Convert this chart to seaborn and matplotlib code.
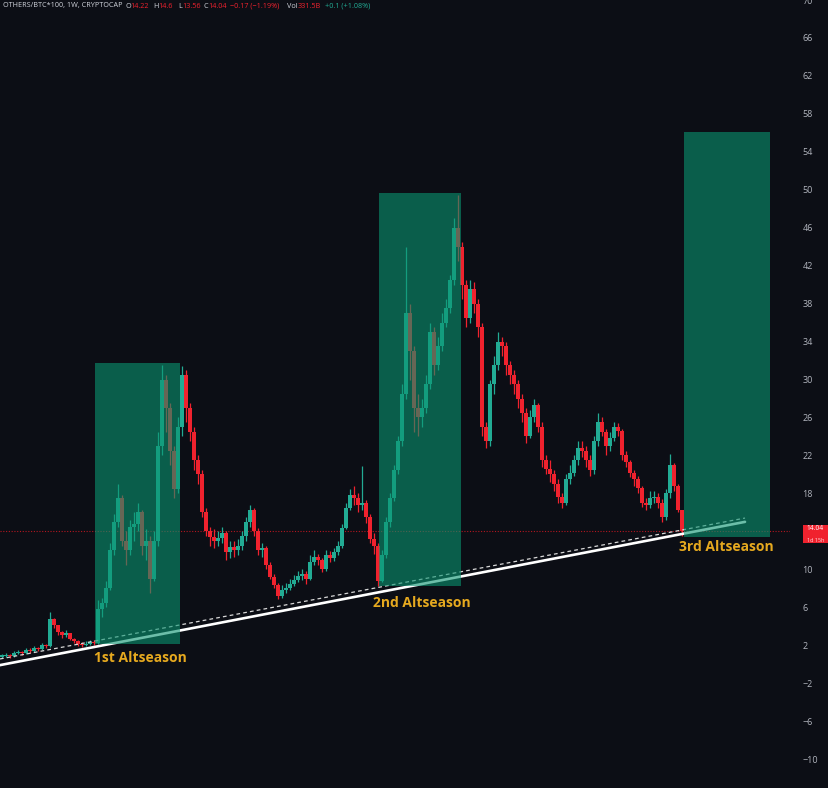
import numpy as np
import pandas as pd
import seaborn as sns
import matplotlib.pyplot as plt
import matplotlib.transforms as mtransforms
from matplotlib.patches import Rectangle

# Set styles
sns.set_theme(style="dark")
plt.rcParams['font.family'] = ['Open Sans', 'DejaVu Sans']

BG = '#0c0e15'
UP = '#22ab94'
DOWN = '#f0222e'
BOX = '#0a9470'
LABEL = '#e6a91f'
AXIS_TXT = '#b2b5be'

# weekly-ish candles of OTHERS/BTC*100
closes = [
    0.9, 1.0, 0.9, 1.2, 1.3, 1.2, 1.5, 1.4, 1.7, 1.6,
    2.0, 1.9, 4.8, 4.1, 3.4, 3.1, 3.3, 2.7, 2.4, 2.1,
    2.0, 2.1, 2.3, 2.2, 5.8, 6.4, 8.0, 12.0, 15.0, 17.5,
    13.0, 12.0, 14.5, 14.8, 16.0, 12.5, 13.0, 9.0, 13.0, 23.0,
    30.0, 27.0, 22.5, 18.5, 25.0, 30.5, 27.0, 24.5, 21.5, 20.0,
    16.0, 14.0, 13.4, 13.0, 13.3, 13.8, 11.8, 12.3, 12.0, 12.5,
    13.5, 15.0, 16.3, 14.0, 12.0, 12.2, 10.5, 9.2, 8.3, 7.2,
    7.8, 8.0, 8.5, 8.9, 9.3, 9.5, 9.0, 10.8, 11.3, 11.0,
    10.0, 11.5, 11.2, 11.8, 12.5, 14.4, 16.5, 17.8, 17.5, 16.8,
    17.0, 15.5, 13.2, 12.5, 8.8, 11.5, 15.0, 17.5, 20.5, 23.5,
    28.5, 37.0, 33.0, 27.0, 26.0, 27.0, 29.5, 35.0, 31.5, 33.5,
    36.0, 37.5, 40.5, 46.0, 44.0, 40.0, 36.5, 39.5, 38.0, 35.5,
    25.0, 23.5, 29.5, 31.5, 34.0, 33.5, 31.5, 30.5, 29.5, 28.0,
    26.5, 24.0, 26.0, 27.3, 25.0, 21.5, 20.6, 20.0, 19.0, 17.6,
    17.0, 19.5, 20.2, 21.5, 22.8, 22.5, 21.5, 20.5, 23.5, 25.5,
    24.5, 23.0, 23.8, 25.0, 24.6, 22.0, 21.3, 20.2, 19.5, 18.6,
    17.0, 16.8, 17.5, 17.6, 17.0, 15.5, 18.0, 21.0, 18.8, 16.3,
    14.04,
]
highs = [
    1.1, 1.2, 1.1, 1.4, 1.5, 1.4, 1.7, 1.7, 1.9, 1.8,
    2.2, 2.1, 5.5, 4.9, 3.9, 3.5, 3.6, 3.2, 2.8, 2.5,
    2.3, 2.4, 2.5, 2.5, 6.8, 7.0, 8.8, 12.8, 15.8, 19.0,
    17.8, 14.0, 15.2, 16.0, 17.0, 16.3, 14.2, 13.5, 14.0, 24.5,
    31.5, 30.5, 27.5, 23.0, 26.0, 31.4, 31.0, 27.5, 25.0, 22.0,
    20.5, 16.5, 14.5, 14.2, 14.0, 14.5, 14.0, 13.0, 13.0, 13.2,
    14.0, 15.5, 16.8, 16.5, 14.3, 12.8, 12.5, 10.8, 9.5, 8.6,
    8.3, 8.6, 9.0, 9.4, 9.8, 10.0, 9.8, 11.5, 12.0, 11.6,
    11.2, 12.0, 11.9, 12.2, 13.0, 14.8, 17.0, 18.5, 18.8, 18.0,
    20.9, 17.3, 15.8, 13.8, 12.8, 12.0, 15.5, 18.0, 21.0, 24.0,
    29.5, 44.0, 38.0, 33.5, 28.5, 28.0, 30.5, 36.0, 35.5, 34.5,
    37.0, 38.5, 41.0, 47.0, 49.5, 44.5, 40.5, 40.5, 40.3, 38.5,
    36.0, 25.5, 30.0, 32.5, 35.0, 34.5, 34.0, 32.0, 31.0, 30.0,
    28.5, 27.0, 26.8, 28.0, 27.5, 25.5, 22.0, 21.5, 20.5, 19.5,
    18.0, 20.0, 21.0, 22.0, 23.5, 23.5, 23.0, 22.0, 24.0, 26.5,
    26.0, 24.8, 24.5, 25.5, 25.4, 24.8, 22.5, 21.5, 20.5, 19.8,
    18.8, 17.5, 18.2, 18.2, 18.0, 17.4, 18.5, 22.2, 21.2, 19.0,
    14.6,
]
lows = [
    0.7, 0.8, 0.7, 0.8, 1.1, 1.0, 1.1, 1.2, 1.3, 1.4,
    1.5, 1.7, 1.8, 3.8, 3.1, 2.8, 2.9, 2.5, 2.2, 1.9,
    1.8, 1.9, 2.0, 2.0, 2.1, 5.0, 6.0, 7.8, 11.5, 14.5,
    12.5, 10.5, 11.5, 13.0, 14.0, 11.5, 11.0, 7.5, 8.8, 12.5,
    22.0, 24.5, 21.0, 17.5, 18.0, 24.0, 25.5, 23.5, 20.5, 19.0,
    15.5, 13.5, 12.5, 12.2, 12.5, 12.8, 11.0, 11.2, 11.3, 11.5,
    12.0, 13.0, 14.5, 13.5, 11.5, 11.3, 10.0, 9.0, 8.0, 6.9,
    7.0, 7.5, 7.8, 8.2, 8.7, 8.9, 8.5, 8.9, 10.5, 10.5,
    9.7, 9.8, 10.8, 10.9, 11.5, 12.2, 14.2, 16.2, 16.8, 16.0,
    16.2, 14.9, 12.8, 11.6, 8.2, 8.7, 11.2, 14.5, 17.2, 20.0,
    23.0, 28.0, 30.0, 24.5, 24.0, 25.0, 26.5, 29.0, 30.5, 31.0,
    33.0, 35.5, 37.0, 40.0, 42.5, 38.5, 35.5, 36.0, 37.0, 34.5,
    24.0, 22.8, 23.0, 28.5, 31.0, 32.5, 30.5, 29.5, 28.5, 27.0,
    25.5, 23.3, 23.8, 25.5, 24.5, 20.8, 20.0, 19.2, 18.3, 17.0,
    16.5, 16.8, 19.0, 19.8, 21.0, 21.8, 20.8, 19.8, 20.0, 23.0,
    24.0, 22.0, 22.5, 23.5, 24.0, 21.5, 20.8, 19.7, 18.8, 18.0,
    16.6, 16.2, 16.5, 17.0, 16.5, 15.0, 15.2, 17.5, 18.3, 16.0,
    13.56,
]
first_open = 0.8

# altseason boxes (candle index range, price range)
box_starts = [23.25, 94.25, 170.5]
box_ends = [44.5, 114.75, 192.0]
box_lows = [2.1, 8.2, 13.4]
box_highs = [31.7, 49.7, 56.1]

season_names = ["1st Altseason", "2nd Altseason", "3rd Altseason"]
season_x = [34.5, 105.0, 181.0]
season_y = [0.7, 6.4, 12.3]

# rising support line
trend_x = [-0.5, 185.75]
trend_solid = [-0.1, 15.0]
trend_dashed = [0.55, 15.4]

last_price = 14.04
countdown = "1d 15h"
# the 14 label sits under the price tag on the original, so it is left out
y_ticks = [-10, -6, -2, 2, 6, 10, 18, 22, 26, 30, 34, 38, 42, 46, 50, 54, 58,
           62, 66, 70]

header_parts = [
    ("OTHERS/BTC*100, 1W, CRYPTOCAP", 3, '#d1d4dc'),
    ("O", 126, '#d1d4dc'), ("14.22", 130, DOWN),
    ("H", 153, '#d1d4dc'), ("14.6", 158, DOWN),
    ("L", 178, '#d1d4dc'), ("13.56", 182, DOWN),
    ("C", 204, '#d1d4dc'), ("14.04", 208, DOWN),
    ("\u22120.17 (\u22121.19%)", 230, DOWN),
    ("Vol", 287, '#d1d4dc'), ("331.5B", 298, DOWN),
    ("+0.1 (+1.08%)", 325, UP),
]


def build_frame():
    df = pd.DataFrame({'close': closes, 'high': highs, 'low': lows})
    df['open'] = df['close'].shift(1).fillna(first_open)
    df['x'] = np.arange(len(df))
    df['high'] = df[['high', 'open', 'close']].max(axis=1)
    df['low'] = df[['low', 'open', 'close']].min(axis=1)
    df['color'] = np.where(df['close'] >= df['open'], UP, DOWN)
    return df


def draw_candles(ax, df):
    ax.vlines(df['x'], df['low'], df['high'], colors=df['color'], lw=0.9, zorder=2)
    bottom = df[['open', 'close']].min(axis=1)
    height = (df['close'] - df['open']).abs().clip(lower=0.12)
    ax.bar(df['x'], height, bottom=bottom, width=0.8, color=df['color'],
           linewidth=0, zorder=3)


def draw_overlays(ax):
    sns.lineplot(x=trend_x, y=trend_solid, color='white', lw=1.9, ax=ax, zorder=3.5)
    sns.lineplot(x=trend_x, y=trend_dashed, color='#d8d8d8', lw=0.9,
                 linestyle=(0, (3, 2.5)), ax=ax, zorder=3.5)
    ax.axhline(last_price, color='#b3161f', lw=0.8, ls=(0, (1, 1.5)), zorder=1)

    for x0, x1, y0, y1 in zip(box_starts, box_ends, box_lows, box_highs):
        ax.add_patch(Rectangle((x0, y0), x1 - x0, y1 - y0, facecolor=BOX,
                               alpha=0.6, lw=0, zorder=4))

    for name, x, y in zip(season_names, season_x, season_y):
        ax.text(x, y, name, color=LABEL, fontsize=10, fontweight='bold',
                ha='center', va='center', zorder=6)


def main():
    df = build_frame()

    fig = plt.figure(figsize=(8.29, 7.88), dpi=100, facecolor=BG)
    ax = fig.add_axes([0, 0, 790 / 829, 1])
    ax.set_facecolor(BG)

    draw_candles(ax, df)
    draw_overlays(ax)

    ax.set_xlim(-0.5, 197)
    ax.set_ylim(-13.05, 69.9)
    ax.set_xticks([])
    ax.yaxis.tick_right()
    ax.set_yticks(y_ticks)
    ax.tick_params(axis='y', length=0, pad=9, labelsize=6.5, labelcolor=AXIS_TXT)
    ax.grid(False)
    for s in ax.spines.values():
        s.set_visible(False)
    ax.set_xlabel('')
    ax.set_ylabel('')

    # last price tag on the scale
    ax.add_patch(Rectangle((803 / 829, 1 - 543 / 788), 26 / 829, 18 / 788,
                           transform=fig.transFigure, facecolor=DOWN,
                           edgecolor='none', clip_on=False, zorder=6))
    trans = mtransforms.blended_transform_factory(ax.transAxes, ax.transData)
    ax.text(1.021, last_price + 0.25, f"{last_price:.2f}", transform=trans,
            fontsize=4.8, color='white', ha='left', va='center', clip_on=False,
            zorder=7)
    ax.text(1.021, last_price - 1.05, countdown, transform=trans, fontsize=4.0,
            color='#ffd6d8', ha='left', va='center', clip_on=False, zorder=7)

    for text, px, col in header_parts:
        fig.text(px / 829, 1 - 6 / 788, text, fontsize=5.2, color=col,
                 ha='left', va='center')

    fig.savefig('out.png', dpi=100, facecolor=BG)


if __name__ == "__main__":
    main()
